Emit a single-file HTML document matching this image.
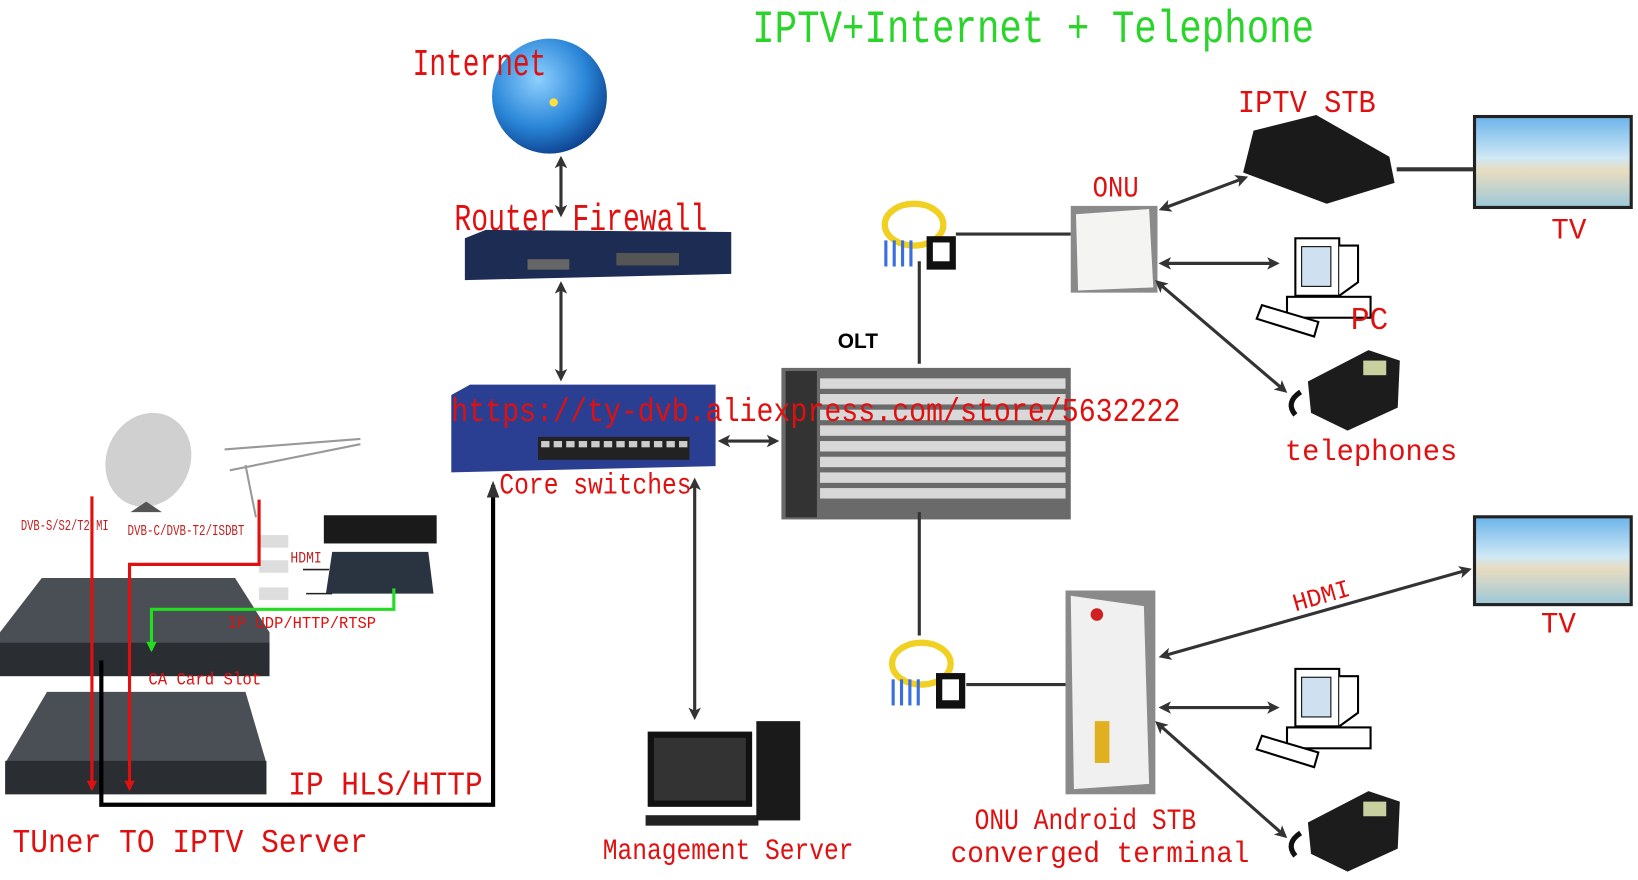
<!DOCTYPE html>
<html><head><meta charset="utf-8"><style>html,body{margin:0;padding:0;background:#fff;width:1638px;height:880px;overflow:hidden}svg{display:block}text{font-family:"Liberation Mono","DejaVu Sans Mono",monospace}</style></head><body>
<svg width="1638" height="880" viewBox="0 0 1568 842" preserveAspectRatio="none" xmlns="http://www.w3.org/2000/svg">
<defs>
<marker id="a" markerWidth="12" markerHeight="12" refX="9" refY="6" orient="auto-start-reverse" markerUnits="userSpaceOnUse"><path d="M0,0 L12,6 L0,12 L3,6 z" fill="#333"/></marker>
<marker id="r" markerWidth="10" markerHeight="10" refX="8" refY="5" orient="auto" markerUnits="userSpaceOnUse"><path d="M0,0 L10,5 L0,10 z" fill="#e01010"/></marker>
<marker id="g" markerWidth="10" markerHeight="10" refX="8" refY="5" orient="auto" markerUnits="userSpaceOnUse"><path d="M0,0 L10,5 L0,10 z" fill="#22dd22"/></marker>
<radialGradient id="gl" cx="0.4" cy="0.35" r="0.7"><stop offset="0" stop-color="#8fd0ff"/><stop offset="0.6" stop-color="#2a86d8"/><stop offset="1" stop-color="#0b3d8a"/></radialGradient>
<linearGradient id="tv" x1="0" y1="0" x2="0" y2="1"><stop offset="0" stop-color="#6fb6ea"/><stop offset="0.45" stop-color="#cfe8f5"/><stop offset="0.6" stop-color="#e8dcc0"/><stop offset="1" stop-color="#9fc9d8"/></linearGradient>
</defs>
<text x="720" y="40" font-size="44" fill="#2ad42a" textLength="538" lengthAdjust="spacingAndGlyphs">IPTV+Internet + Telephone</text>
<circle cx="526" cy="92" r="55" fill="url(#gl)"/>
<circle cx="530" cy="98" r="4" fill="#ffe040"/>
<text x="395" y="72" font-size="36" fill="#e01010" textLength="128" lengthAdjust="spacingAndGlyphs">Internet</text>
<line x1="537" y1="152" x2="537" y2="205" stroke="#333" stroke-width="3" marker-start="url(#a)" marker-end="url(#a)"/>
<text x="435" y="220" font-size="36" fill="#e01010" textLength="242" lengthAdjust="spacingAndGlyphs">Router Firewall</text>
<path d="M445,228 L465,220 L700,222 L700,262 L445,268 z" fill="#1c2c52"/>
<rect x="590" y="242" width="60" height="12" fill="#555"/><rect x="505" y="248" width="40" height="10" fill="#666"/>
<line x1="537" y1="272" x2="537" y2="362" stroke="#333" stroke-width="3" marker-start="url(#a)" marker-end="url(#a)"/>
<path d="M432,378 L450,368 L685,368 L685,446 L432,452 z" fill="#2b3f92"/>
<rect x="515" y="418" width="145" height="22" fill="#222"/>
<g fill="#ccc"><rect x="518" y="422" width="8" height="6"/><rect x="530" y="422" width="8" height="6"/><rect x="542" y="422" width="8" height="6"/><rect x="554" y="422" width="8" height="6"/><rect x="566" y="422" width="8" height="6"/><rect x="578" y="422" width="8" height="6"/><rect x="590" y="422" width="8" height="6"/><rect x="602" y="422" width="8" height="6"/><rect x="614" y="422" width="8" height="6"/><rect x="626" y="422" width="8" height="6"/><rect x="638" y="422" width="8" height="6"/><rect x="650" y="422" width="8" height="6"/></g>
<text x="478" y="472" font-size="28" fill="#e01010" textLength="184" lengthAdjust="spacingAndGlyphs">Core switches</text>
<line x1="690" y1="422" x2="743" y2="422" stroke="#333" stroke-width="3" marker-start="url(#a)" marker-end="url(#a)"/>
<text x="802" y="333" font-size="20" font-weight="bold" fill="#000" style="font-family:'Liberation Sans',sans-serif">OLT</text>
<rect x="748" y="352" width="277" height="145" fill="#6a6a6a"/>
<g fill="#d8d8d8"><rect x="785" y="362" width="235" height="10"/><rect x="785" y="377" width="235" height="10"/><rect x="785" y="392" width="235" height="10"/><rect x="785" y="407" width="235" height="10"/><rect x="785" y="422" width="235" height="10"/><rect x="785" y="437" width="235" height="10"/><rect x="785" y="452" width="235" height="10"/><rect x="785" y="467" width="235" height="10"/></g>
<rect x="752" y="355" width="30" height="140" fill="#333"/>
<line x1="880" y1="250" x2="880" y2="348" stroke="#333" stroke-width="3"/>
<line x1="880" y1="490" x2="880" y2="608" stroke="#333" stroke-width="3"/>
<text x="432" y="403" font-size="32" fill="#e01010" textLength="698" lengthAdjust="spacingAndGlyphs">https://ty-dvb.aliexpress.com/store/5632222</text>
<g><ellipse cx="875" cy="215" rx="28" ry="20" fill="none" stroke="#f0d020" stroke-width="6"/><g stroke="#3b6fe0" stroke-width="3"><line x1="848" y1="230" x2="848" y2="255"/><line x1="856" y1="230" x2="856" y2="255"/><line x1="864" y1="230" x2="864" y2="255"/><line x1="872" y1="230" x2="872" y2="255"/></g><rect x="887" y="226" width="28" height="32" fill="#111"/><rect x="893" y="232" width="16" height="18" fill="#fff"/></g>
<line x1="915" y1="224" x2="1025" y2="224" stroke="#333" stroke-width="3"/>
<g><ellipse cx="882" cy="635" rx="28" ry="20" fill="none" stroke="#f0d020" stroke-width="6"/><g stroke="#3b6fe0" stroke-width="3"><line x1="855" y1="650" x2="855" y2="675"/><line x1="863" y1="650" x2="863" y2="675"/><line x1="871" y1="650" x2="871" y2="675"/><line x1="879" y1="650" x2="879" y2="675"/></g><rect x="896" y="644" width="28" height="34" fill="#111"/><rect x="902" y="650" width="16" height="20" fill="#fff"/></g>
<line x1="925" y1="655" x2="1020" y2="655" stroke="#333" stroke-width="3"/>
<rect x="1025" y="197" width="83" height="83" fill="#8a8a8a"/>
<path d="M1030,205 L1100,200 L1104,275 L1032,278 z" fill="#f4f4f2"/>
<text x="1046" y="188" font-size="28" fill="#e01010" textLength="44" lengthAdjust="spacingAndGlyphs">ONU</text>
<path d="M1200,125 L1260,110 L1330,150 L1335,175 L1270,195 L1190,165 z" fill="#1a1a1a"/>
<text x="1185" y="107" font-size="30" fill="#e01010" textLength="132" lengthAdjust="spacingAndGlyphs">IPTV STB</text>
<line x1="1337" y1="162" x2="1410" y2="162" stroke="#333" stroke-width="4"/>
<rect x="1410" y="110" width="153" height="90" fill="#222"/><rect x="1413" y="113" width="147" height="84" fill="url(#tv)"/>
<text x="1485" y="228" font-size="28" fill="#e01010">TV</text>
<g id="pc"><rect x="1240" y="228" width="42" height="55" fill="#fff" stroke="#000" stroke-width="2"/><rect x="1246" y="236" width="28" height="38" fill="#cfe0f0" stroke="#000"/><path d="M1282,235 L1300,235 L1300,270 L1282,283" fill="#fff" stroke="#000" stroke-width="2"/><rect x="1232" y="284" width="80" height="20" fill="#fff" stroke="#000" stroke-width="2"/><path d="M1208,292 L1262,308 L1258,322 L1203,305 z" fill="#fff" stroke="#000" stroke-width="2"/></g>
<text x="1293" y="315" font-size="30" fill="#e01010">PC</text>
<g id="ph"><path d="M1252,365 L1310,335 L1340,345 L1338,390 L1290,412 L1255,395 z" fill="#1c1c1c"/><rect x="1305" y="345" width="22" height="14" fill="#c8d0a0"/><path d="M1245,375 q-15,10 -5,22" stroke="#111" stroke-width="5" fill="none"/></g>
<text x="1230" y="440" font-size="28" fill="#e01010" textLength="165" lengthAdjust="spacingAndGlyphs">telephones</text>
<line x1="1112" y1="200" x2="1192" y2="170" stroke="#333" stroke-width="3" marker-start="url(#a)" marker-end="url(#a)"/>
<line x1="1112" y1="252" x2="1222" y2="252" stroke="#333" stroke-width="3" marker-start="url(#a)" marker-end="url(#a)"/>
<line x1="1108" y1="270" x2="1230" y2="374" stroke="#333" stroke-width="3" marker-start="url(#a)" marker-end="url(#a)"/>
<rect x="1020" y="565" width="86" height="195" fill="#8a8a8a"/>
<path d="M1025,570 L1095,580 L1100,750 L1028,755 z" fill="#f0f0f0"/>
<circle cx="1050" cy="588" r="6" fill="#d02020"/>
<rect x="1048" y="690" width="14" height="40" fill="#e0b020"/>
<text x="933" y="793" font-size="28" fill="#e01010" textLength="212" lengthAdjust="spacingAndGlyphs">ONU Android STB</text>
<text x="910" y="825" font-size="28" fill="#e01010" textLength="286" lengthAdjust="spacingAndGlyphs">converged terminal</text>
<rect x="1410" y="493" width="153" height="87" fill="#222"/><rect x="1413" y="496" width="147" height="81" fill="url(#tv)"/>
<text x="1475" y="605" font-size="28" fill="#e01010">TV</text>
<line x1="1112" y1="628" x2="1406" y2="545" stroke="#333" stroke-width="3" marker-start="url(#a)" marker-end="url(#a)"/>
<text x="1240" y="585" font-size="24" fill="#e01010" transform="rotate(-16 1240 585)" textLength="56" lengthAdjust="spacingAndGlyphs">HDMI</text>
<use href="#pc" transform="translate(0,412)"/>
<use href="#ph" transform="translate(0,422)"/>
<line x1="1112" y1="677" x2="1222" y2="677" stroke="#333" stroke-width="3" marker-start="url(#a)" marker-end="url(#a)"/>
<line x1="1108" y1="692" x2="1230" y2="800" stroke="#333" stroke-width="3" marker-start="url(#a)" marker-end="url(#a)"/>
<line x1="665" y1="460" x2="665" y2="686" stroke="#333" stroke-width="3" marker-start="url(#a)" marker-end="url(#a)"/>
<rect x="620" y="700" width="100" height="72" fill="#111"/><rect x="626" y="706" width="88" height="60" fill="#333"/>
<rect x="618" y="780" width="108" height="10" fill="#222"/>
<rect x="724" y="690" width="42" height="95" fill="#1a1a1a"/>
<text x="577" y="822" font-size="28" fill="#e01010" textLength="240" lengthAdjust="spacingAndGlyphs">Management Server</text>
<ellipse cx="142" cy="440" rx="40" ry="46" fill="#d0d0d0" transform="rotate(25 142 440)"/>
<path d="M140,480 L155,490 L125,490 z" fill="#555"/>
<g stroke="#999" stroke-width="2"><line x1="215" y1="430" x2="345" y2="420"/><line x1="220" y1="450" x2="345" y2="425"/><line x1="235" y1="445" x2="245" y2="495"/></g>
<rect x="310" y="493" width="108" height="27" fill="#1a1a1a"/>
<path d="M318,528 L410,528 L415,568 L312,568 z" fill="#2a3440"/>
<g fill="#ddd"><rect x="248" y="512" width="28" height="12"/><rect x="248" y="536" width="28" height="12"/><rect x="248" y="562" width="28" height="12"/></g>
<g stroke="#222" stroke-width="1.5"><line x1="290" y1="545" x2="315" y2="545"/><line x1="293" y1="568" x2="318" y2="568"/></g>
<path d="M40,553 L225,553 L258,605 L258,632 L0,632 L0,605 z" fill="#4a4e55"/>
<rect x="0" y="615" width="258" height="32" fill="#2a2d32"/>
<path d="M45,662 L235,662 L255,730 L255,760 L5,760 L5,730 z" fill="#4a4e55"/>
<rect x="5" y="728" width="250" height="32" fill="#2a2d32"/>
<text x="20" y="507" font-size="14" fill="#c02020" textLength="84" lengthAdjust="spacingAndGlyphs">DVB-S/S2/T2 MI</text>
<text x="122" y="512" font-size="14" fill="#c02020" textLength="112" lengthAdjust="spacingAndGlyphs">DVB-C/DVB-T2/ISDBT</text>
<text x="278" y="538" font-size="15" fill="#c02020" textLength="30" lengthAdjust="spacingAndGlyphs">HDMI</text>
<polyline points="88,475 88,755" fill="none" stroke="#e01010" stroke-width="3" marker-end="url(#r)"/>
<polyline points="248,478 248,540 124,540 124,755" fill="none" stroke="#e01010" stroke-width="3" marker-end="url(#r)"/>
<polyline points="377,563 377,583 145,583 145,622" fill="none" stroke="#22dd22" stroke-width="3" marker-end="url(#g)"/>
<polyline points="97,632 97,770 472,770 472,464" fill="none" stroke="#000" stroke-width="4"/>
<path d="M466,476 L472,460 L478,476 z" fill="#333"/>
<text x="218" y="601" font-size="16" fill="#e01010" textLength="142" lengthAdjust="spacingAndGlyphs">IP UDP/HTTP/RTSP</text>
<text x="142" y="655" font-size="17" fill="#e01010" textLength="108" lengthAdjust="spacingAndGlyphs">CA Card Slot</text>
<text x="276" y="760" font-size="32" fill="#e01010" textLength="186" lengthAdjust="spacingAndGlyphs">IP HLS/HTTP</text>
<text x="12" y="815" font-size="32" fill="#e01010" textLength="340" lengthAdjust="spacingAndGlyphs">TUner TO IPTV Server</text>
</svg>
</body></html>
